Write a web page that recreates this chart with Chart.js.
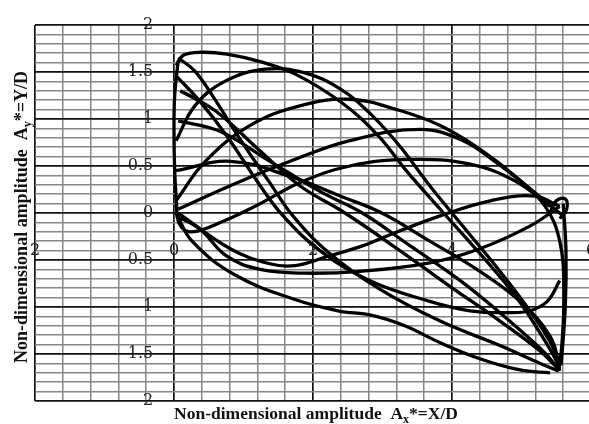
<!DOCTYPE html>
<html>
<head>
<meta charset="utf-8">
<script src="https://cdn.jsdelivr.net/npm/chart.js@4.4.1/dist/chart.umd.min.js"></script>
<style>
  html, body { margin: 0; padding: 0; background: #fff; overflow: hidden; }
  #wrap { position: relative; width: 600px; height: 424px; }
</style>
</head>
<body>
<div id="wrap"><canvas id="orbit"></canvas></div>
<script>
// orbit branches, [Ax*, Ay*]
// arches over the top, falling to the far corner
const arcU1 = [[0.03,1.57],[0.14,1.68],[0.40,1.71],[0.76,1.69],[1.24,1.61],[1.74,1.48],[2.42,1.17],[2.94,0.82],[3.32,0.47],[3.83,0.04],[4.40,-0.43],[4.91,-0.88],[5.27,-1.28],[5.50,-1.57],[5.55,-1.68]];
const arcU2 = [[0.03,0.77],[0.30,1.14],[0.73,1.40],[1.31,1.53],[1.88,1.49],[2.39,1.32],[2.82,1.06],[3.25,0.71],[3.68,0.29],[4.19,-0.17],[4.69,-0.62],[5.12,-1.04],[5.44,-1.41],[5.55,-1.66]];
const arcU3 = [[0.03,0.13],[0.45,0.55],[1.09,0.93],[1.81,1.14],[2.53,1.21],[3.25,1.09],[3.83,0.93],[4.40,0.68],[4.91,0.39],[5.34,0.07],[5.55,-0.30],[5.61,-0.83],[5.58,-1.41],[5.53,-1.68]];
const arcU4 = [[0.06,0.04],[0.81,0.29],[1.67,0.55],[2.53,0.77],[3.54,0.89],[4.16,0.77],[4.65,0.53],[5.12,0.26],[5.48,0.04],[5.60,-0.03]];
const arcU5 = [[0.03,0.10],[0.08,-0.12],[0.25,-0.20],[0.70,-0.09],[1.24,0.10],[1.80,0.32],[2.53,0.50],[3.40,0.57],[4.26,0.52],[4.91,0.34],[5.41,0.07]];
// diagonal sweeps from the upper left
const sweepD1 = [[0.06,1.65],[0.30,1.51],[0.56,1.24],[0.99,0.74],[1.38,0.32],[1.71,-0.03],[2.24,-0.43],[2.96,-0.81],[3.83,-1.15],[4.69,-1.41],[5.27,-1.60],[5.53,-1.68]];
const sweepD2 = [[0.03,1.46],[0.37,1.19],[0.76,0.82],[1.24,0.29],[1.57,-0.03],[2.10,-0.40],[2.82,-0.72],[3.68,-0.94],[4.26,-1.04],[4.79,-1.06],[5.12,-1.04],[5.37,-0.94],[5.55,-0.72]];
const sweepD3 = [[0.09,1.30],[0.59,1.09],[1.24,0.66],[1.81,0.29],[2.46,0],[3.25,-0.40],[3.97,-0.78],[4.69,-1.15],[5.27,-1.47],[5.53,-1.66]];
const sweepD4 = [[0.06,0.98],[0.66,0.87],[1.38,0.55],[2.10,0.23],[2.71,0],[3.40,-0.35],[4.12,-0.72],[4.83,-1.15],[5.34,-1.49],[5.53,-1.66]];
const sweepD5 = [[0.03,0.45],[0.81,0.55],[1.67,0.39],[2.39,0.18],[2.99,0],[3.68,-0.30],[4.40,-0.62],[4.98,-0.94],[5.41,-1.31],[5.55,-1.63]];
// lower branches
const sagV = [[0.03,0],[0.26,-0.30],[0.88,-0.66],[1.74,-0.92],[2.36,-1.04],[2.85,-1.09],[3.32,-1.20],[3.83,-1.38],[4.40,-1.55],[4.98,-1.67],[5.41,-1.70]];
const riseR1 = [[0.03,-0.03],[0.37,-0.17],[0.76,-0.46],[1.24,-0.60],[1.88,-0.64],[2.68,-0.62],[3.68,-0.53],[4.40,-0.38],[5.12,-0.14],[5.55,0.07]];
const riseR2 = [[0.06,0],[0.81,-0.38],[1.38,-0.54],[1.74,-0.56],[2.22,-0.46],[2.71,-0.35],[3.18,-0.21],[3.83,-0.03],[4.55,0.13],[5.19,0.18],[5.55,0.07]];
// turning points at both ends of the sweep
const loopRight = [[5.41,0],[5.50,0.13],[5.63,0.15],[5.65,0.04],[5.55,-0.06]];
const edgeLeft = [[0.06,1.62],[0.01,1.25],[0.0,0.85],[0.01,0.45],[0.04,0.05]];
const edgeRight = [[5.60,0.10],[5.64,-0.40],[5.63,-1.00],[5.57,-1.62]];

const branches = [arcU1, arcU2, arcU3, arcU4, arcU5, sweepD1, sweepD2, sweepD3, sweepD4, sweepD5,
  sagV, riseR1, riseR2, loopRight, edgeLeft, edgeRight];

// grid lines and tick labels
const xGrid = [-2, -1.6, -1.2, -0.8, -0.4, 0, 0.4, 0.8, 1.2, 1.6, 2, 2.4, 2.8, 3.2, 3.6, 4, 4.4, 4.8, 5.2, 5.6, 6];
const xTickValues = [-2, 0, 2, 4, 6];
const xTickLabels = ['2', '0', '2', '4', '6'];
const yGrid = [];
for (let i = -20; i <= 20; i++) yGrid.push(i / 10);
const yTickValues = [2, 1.5, 1, 0.5, 0, -0.5, -1, -1.5, -2];
const yTickLabels = ['2', '1.5', '1', '0.5', '0', '0.5', '1', '1.5', '2'];

const near = (a, b) => Math.abs(a - b) < 1e-6;
const labelFor = (values, labels, v) => {
  const i = values.findIndex(t => near(t, v));
  return i < 0 ? '' : labels[i];
};
const majorX = v => Number.isInteger(v / 2);
const majorY = v => Number.isInteger(Math.round(v * 10) / 5);

const titlePlugin = {
  id: 'axisTitles',
  afterDraw(chart) {
    const c = chart.ctx;
    const drawTitle = (sub, size) => {
      const big = 'bold ' + size + 'px "Liberation Serif"';
      const small = 'bold ' + Math.round(size * 0.68) + 'px "Liberation Serif"';
      const parts = [['Non-dimensional amplitude  A', big, 0], [sub, small, 4], ['*=' + sub.toUpperCase() + '/D', big, 0]];
      let w = 0;
      parts.forEach(p => { c.font = p[1]; w += c.measureText(p[0]).width; });
      let x = -w / 2;
      parts.forEach(p => {
        c.font = p[1];
        c.fillText(p[0], x, p[2]);
        x += c.measureText(p[0]).width;
      });
    };
    c.save();
    c.fillStyle = '#111';
    c.textBaseline = 'alphabetic';
    c.textAlign = 'left';
    c.translate(316, 419);
    drawTitle('x', 17.5);
    c.restore();

    c.save();
    c.fillStyle = '#111';
    c.textBaseline = 'alphabetic';
    c.textAlign = 'left';
    c.translate(27, 217);
    c.rotate(-Math.PI / 2);
    drawTitle('y', 18);
    c.restore();
  }
};

new Chart(document.getElementById('orbit'), {
  type: 'scatter',
  data: {
    datasets: branches.map(b => ({
      data: b.map(p => ({ x: p[0], y: p[1] })),
      showLine: true,
      borderColor: '#000',
      borderWidth: 3.3,
      pointRadius: 0,
      tension: 0.4,
      fill: false
    }))
  },
  options: {
    responsive: true,
    maintainAspectRatio: false,
    animation: false,
    events: [],
    layout: { padding: { left: 35, top: 25, right: 9, bottom: 23 } },
    plugins: { legend: { display: false }, tooltip: { enabled: false } },
    scales: {
      x: {
        type: 'linear',
        min: -2,
        max: 6,
        position: { y: -0.3 },
        afterFit: s => { s.height = 0; },
        afterBuildTicks: s => { s.ticks = xGrid.map(v => ({ value: v })); },
        border: { display: false },
        grid: {
          drawTicks: false,
          color: ctx => (ctx.tick && majorX(ctx.tick.value) ? '#111' : '#858585'),
          lineWidth: ctx => (ctx.tick && majorX(ctx.tick.value) ? 1.7 : 1.5)
        },
        ticks: {
          padding: 0,
          maxRotation: 0,
          autoSkip: false,
          color: '#222',
          font: { family: 'DejaVu Serif', size: 16 },
          callback: v => labelFor(xTickValues, xTickLabels, v)
        }
      },
      y: {
        type: 'linear',
        min: -2,
        max: 2,
        position: { x: -0.3 },
        afterFit: s => { s.width = 0; },
        afterBuildTicks: s => { s.ticks = yGrid.map(v => ({ value: v })); },
        border: { display: false },
        grid: {
          drawTicks: false,
          color: ctx => (ctx.tick && majorY(ctx.tick.value) ? '#111' : '#858585'),
          lineWidth: ctx => (ctx.tick && majorY(ctx.tick.value) ? 1.7 : 1.5)
        },
        ticks: {
          padding: 0,
          autoSkip: false,
          color: '#222',
          font: { family: 'DejaVu Serif', size: 16 },
          callback: v => labelFor(yTickValues, yTickLabels, v)
        }
      }
    }
  },
  plugins: [titlePlugin]
});
</script>
</body>
</html>
